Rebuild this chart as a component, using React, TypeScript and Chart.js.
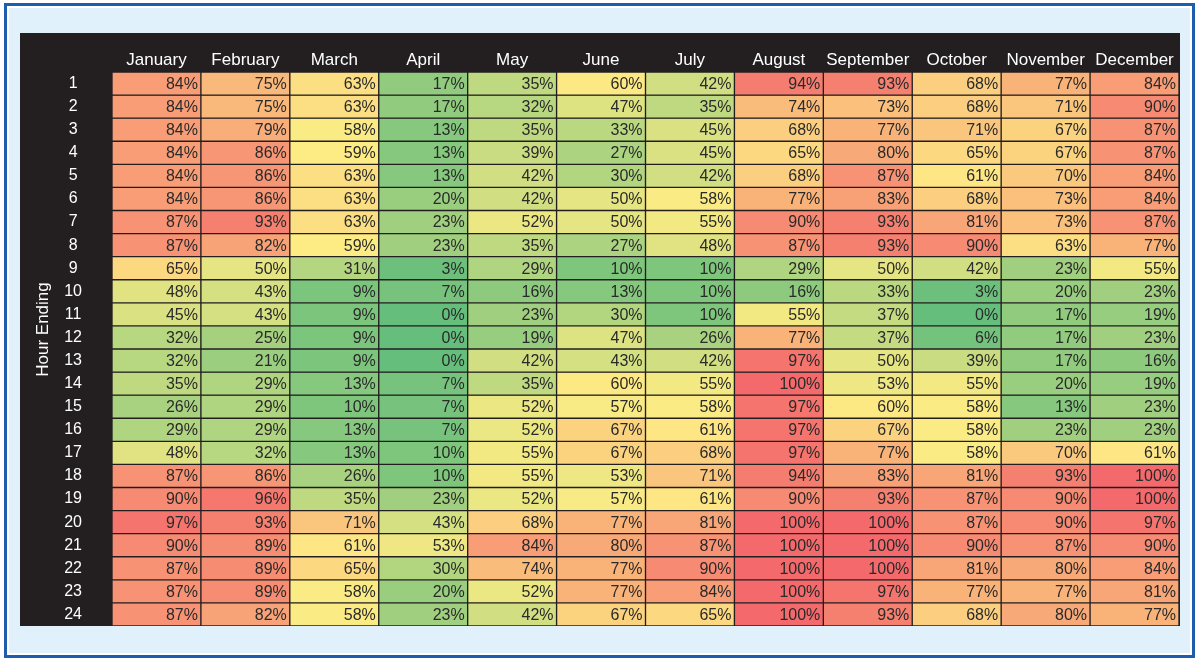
import React, { useEffect, useRef } from 'react';
import { Chart, registerables } from 'chart.js';

Chart.register(...registerables);

const months = ['January', 'February', 'March', 'April', 'May', 'June', 'July', 'August', 'September', 'October', 'November', 'December'];
const hourLabels = ['1', '2', '3', '4', '5', '6', '7', '8', '9', '10', '11', '12', '13', '14', '15', '16', '17', '18', '19', '20', '21', '22', '23', '24'];

const january = [84, 84, 84, 84, 84, 84, 87, 87, 65, 48, 45, 32, 32, 35, 26, 29, 48, 87, 90, 97, 90, 87, 87, 87];
const february = [75, 75, 79, 86, 86, 86, 93, 82, 50, 43, 43, 25, 21, 29, 29, 29, 32, 86, 96, 93, 89, 89, 89, 82];
const march = [63, 63, 58, 59, 63, 63, 63, 59, 31, 9, 9, 9, 9, 13, 10, 13, 13, 26, 35, 71, 61, 65, 58, 58];
const april = [17, 17, 13, 13, 13, 20, 23, 23, 3, 7, 0, 0, 0, 7, 7, 7, 10, 10, 23, 43, 53, 30, 20, 23];
const may = [35, 32, 35, 39, 42, 42, 52, 35, 29, 16, 23, 19, 42, 35, 52, 52, 55, 55, 52, 68, 84, 74, 52, 42];
const june = [60, 47, 33, 27, 30, 50, 50, 27, 10, 13, 30, 47, 43, 60, 57, 67, 67, 53, 57, 77, 80, 77, 77, 67];
const july = [42, 35, 45, 45, 42, 58, 55, 48, 10, 10, 10, 26, 42, 55, 58, 61, 68, 71, 61, 81, 87, 90, 84, 65];
const august = [94, 74, 68, 65, 68, 77, 90, 87, 29, 16, 55, 77, 97, 100, 97, 97, 97, 94, 90, 100, 100, 100, 100, 100];
const september = [93, 73, 77, 80, 87, 83, 93, 93, 50, 33, 37, 37, 50, 53, 60, 67, 77, 83, 93, 100, 100, 100, 97, 93];
const october = [68, 68, 71, 65, 61, 68, 81, 90, 42, 3, 0, 6, 39, 55, 58, 58, 58, 81, 87, 87, 90, 81, 77, 68];
const november = [77, 71, 67, 67, 70, 73, 73, 63, 23, 20, 17, 17, 17, 20, 13, 23, 70, 93, 90, 90, 87, 80, 77, 80];
const december = [84, 90, 87, 87, 84, 84, 87, 77, 55, 23, 19, 23, 16, 19, 23, 23, 61, 100, 100, 97, 90, 84, 81, 77];

const series = [january, february, march, april, may, june, july, august, september, october, november, december];

const FONT = '"Liberation Sans", Arial, Helvetica, sans-serif';
const PANEL = '#231f20';

const GREEN = [101, 190, 124];
const YELLOW = [253, 236, 132];
const RED = [244, 106, 108];
const MID = 59;

function cellColor(v: number): string {
  let a: number[], b: number[], t: number;
  if (v <= MID) { a = GREEN; b = YELLOW; t = v / MID; }
  else { a = YELLOW; b = RED; t = (v - MID) / (100 - MID); }
  const c = a.map((x, i) => Math.round(x + (b[i] - x) * t));
  return `rgb(${c[0]},${c[1]},${c[2]})`;
}

const labelPlugin = {
  id: 'cellLabels',
  afterDatasetsDraw(chart: any) {
    const ctx = chart.ctx;
    ctx.save();
    ctx.font = `16px ${FONT}`;
    ctx.fillStyle = '#2a2a2a';
    ctx.textAlign = 'right';
    ctx.textBaseline = 'middle';
    chart.data.datasets.forEach((_ds: any, h: number) => {
      const meta = chart.getDatasetMeta(h);
      meta.data.forEach((bar: any, m: number) => {
        const { x, y, base, width } = bar.getProps(['x', 'y', 'base', 'width'], true);
        ctx.fillText(series[m][h] + '%', x + width / 2 - 3, (y + base) / 2 + 1);
      });
    });
    ctx.restore();
  },
};

const titlePlugin = {
  id: 'hourTitle',
  afterDraw(chart: any) {
    const ctx = chart.ctx;
    ctx.save();
    ctx.font = `17px ${FONT}`;
    ctx.fillStyle = '#ffffff';
    ctx.textAlign = 'center';
    ctx.textBaseline = 'middle';
    ctx.translate(23.5, chart.height / 2);
    ctx.rotate(-Math.PI / 2);
    ctx.fillText('Hour Ending', 0, 0);
    ctx.restore();
  },
};

export default function App() {
  const ref = useRef<HTMLCanvasElement | null>(null);

  useEffect(() => {
    document.body.style.margin = '0';
    if (!ref.current) return;
    const datasets = hourLabels.map((_label, h) => ({
      label: hourLabels[h],
      data: months.map(() => [h, h + 1]),
      backgroundColor: (c: any) => cellColor(series[c.dataIndex][h]),
      borderColor: PANEL,
      borderWidth: 1,
      borderSkipped: false,
      barPercentage: 1,
      categoryPercentage: 1,
    }));
    const chart = new Chart(ref.current, {
      type: 'bar',
      data: { labels: months, datasets: datasets as any },
      options: {
        responsive: false,
        animation: false,
        layout: { padding: { left: 0, right: 1, top: 0, bottom: 0 } },
        plugins: { legend: { display: false }, tooltip: { enabled: false } },
        scales: {
          x: {
            type: 'category',
            position: 'top',
            stacked: true,
            grid: { display: false, drawTicks: false },
            border: { display: false },
            ticks: { color: '#ffffff', font: { size: 17, family: FONT }, padding: 1, maxRotation: 0, autoSkip: false },
            afterFit: (s: any) => { s.height = 39; s.paddingLeft = 0; s.paddingRight = 0; },
          },
          y: {
            type: 'linear',
            min: 0,
            max: 24,
            reverse: true,
            stacked: false,
            grid: { display: false, drawTicks: false },
            border: { display: false },
            afterBuildTicks: (s: any) => { s.ticks = hourLabels.map((_l, i) => ({ value: i + 0.5 })); },
            ticks: {
              color: '#ffffff',
              font: { size: 16, family: FONT },
              padding: 30,
              crossAlign: 'center',
              autoSkip: false,
              callback: (_v: any, i: number) => hourLabels[i],
            },
            afterFit: (s: any) => { s.width = 92; s.paddingTop = 0; s.paddingBottom = 0; },
          },
        },
      } as any,
      plugins: [labelPlugin, titlePlugin],
    });
    return () => chart.destroy();
  }, []);

  return (
    <div style={{ position: 'relative', width: 1200, height: 662, overflow: 'hidden', background: '#ffffff' }}>
      <div
        style={{
          position: 'absolute', left: 4, top: 3, width: 1191, height: 655, boxSizing: 'border-box',
          border: '3px solid #1c5daf', background: '#e1f1fc', boxShadow: 'inset 0 0 0 2px #ffffff',
        }}
      />
      <div style={{ position: 'absolute', left: 20, top: 33, width: 1160, height: 593, background: PANEL }}>
        <canvas ref={ref} width={1160} height={593} style={{ display: 'block' }} />
      </div>
    </div>
  );
}
